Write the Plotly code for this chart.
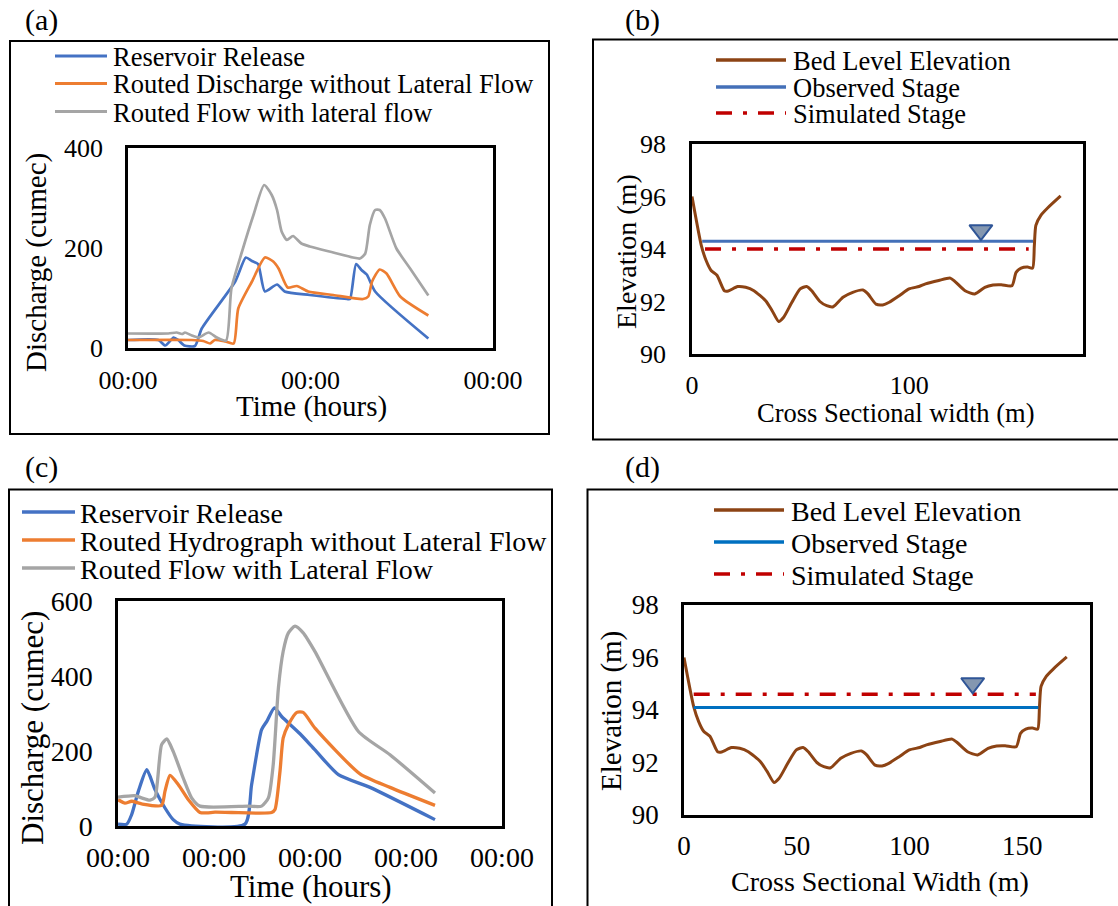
import plotly.graph_objects as go

W, H = 1118, 906
FONT = "Liberation Serif"

# ---------------- data ----------------
# (a) hydrographs, time in hours
a_blue_t = [0, 4, 4.9, 6, 6.6, 7.4, 8.8, 9.7, 14.1, 15.5, 16.3, 17.1, 18.0, 19.6, 20.6, 23.9, 28.8, 29.2, 30.0, 30.7, 31.4, 32.5, 39.5]
a_blue_q = [16, 16, 5, 21, 16, 5, 4, 39, 133, 181, 174, 168, 113, 127, 113, 106, 98, 98, 168, 156, 147, 113, 19]
a_orange_t = [0, 8.4, 9.9, 10.8, 11.4, 12.8, 13.9, 14.5, 16.3, 18.0, 19.1, 19.8, 21.0, 22.2, 23.7, 27.0, 30.9, 31.6, 32.1, 33.1, 34.0, 35.8, 39.5]
a_orange_q = [16, 16, 14, 9, 16, 13, 9, 79, 133, 181, 173, 159, 121, 124, 113, 106, 98, 103, 133, 157, 149, 103, 65]
a_gray_t = [0, 5.3, 6.4, 7.1, 7.5, 8.4, 9.3, 10.6, 11.7, 12.9, 13.6, 15.0, 16.5, 17.9, 18.9, 19.6, 20.2, 20.9, 21.7, 22.8, 23.9, 27.0, 29.6, 30.5, 31.2, 31.8, 32.5, 33.1, 33.8, 35.3, 37.1, 39.5]
a_gray_q = [29, 29, 31, 28, 31, 25, 21, 31, 21, 15, 119, 193, 266, 326, 306, 276, 233, 216, 224, 209, 203, 191, 181, 179, 189, 246, 276, 276, 259, 199, 159, 105]
a_names = ["Reservoir Release", "Routed Discharge without Lateral Flow", "Routed Flow with lateral flow"]

# (c) hydrographs, time in hours
c_blue_t = [0, 2.2, 3.4, 5.1, 7.2, 9.25, 11.75, 13.8, 15.5, 31.75, 33.4, 35.9, 37.2, 39.1, 40.9, 45.5, 49.25, 55.1, 63, 79.25]
c_blue_q = [5, 5, 30, 93, 150, 97, 48, 17, 5, 5, 110, 257, 279, 315, 292, 246, 203, 137, 103, 17]
c_orange_t = [0, 1.75, 3.4, 5.9, 10.9, 11.75, 13, 15.1, 17.6, 20.5, 22.2, 24.25, 28.4, 38.4, 39.25, 40.5, 41.3, 42.6, 44.7, 46.3, 49.25, 60.5, 68, 79.25]
c_orange_q = [70, 61, 66, 59, 55, 93, 135, 110, 70, 36, 35, 37, 36, 36, 44, 146, 235, 270, 303, 303, 261, 139, 103, 55]
c_gray_t = [0, 4.25, 5.9, 8, 9.25, 10.9, 12.2, 13.8, 16.3, 18.4, 20.5, 32.6, 35.9, 37.6, 38.8, 40.1, 41.3, 42.6, 44.25, 46.3, 49.25, 60.1, 68, 79.25]
c_gray_q = [77, 81, 75, 69, 77, 217, 232, 199, 128, 75, 53, 53, 53, 75, 163, 368, 466, 515, 533, 515, 465, 252, 190, 88]
c_names = ["Reservoir Release", "Routed Hydrograph without Lateral Flow", "Routed Flow with Lateral Flow"]

time_ticks_a = [0, 24, 48]
time_ticks_c = [0, 24, 48, 72, 96]
time_label = "00:00"

# (b), (d) cross-section
bed_x = [0, 4.3, 6.5, 8.8, 11.5, 14.9, 16.7, 21, 24.7, 28.5, 33.9, 36.9, 39.9, 42.2, 46, 49.8, 52.8, 55.1, 58.9, 62, 65, 69.5, 74, 78.7, 81, 84.7, 87.8, 90.8, 95.4, 99.9, 104.5, 107.5, 113.6, 118.9, 121.1, 125.7, 130.2, 134.8, 138.6, 142.4, 147.3, 149.2, 151.5, 154.5, 156.8, 157.6, 158.3, 160.6, 163.7, 169.7]
bed_z = [96.0, 94.13, 93.56, 93.18, 93.0, 92.41, 92.4, 92.57, 92.54, 92.41, 92.03, 91.65, 91.24, 91.4, 91.97, 92.48, 92.57, 92.41, 92.0, 91.84, 91.8, 92.16, 92.35, 92.44, 92.29, 91.9, 91.87, 91.97, 92.22, 92.48, 92.57, 92.67, 92.8, 92.89, 92.76, 92.41, 92.29, 92.54, 92.63, 92.64, 92.6, 93.11, 93.27, 93.31, 93.27, 94.13, 94.9, 95.28, 95.56, 96.02]
b_obs_x, b_obs_z = [4.7, 157.0], 94.3
b_sim_x, b_sim_z = [6.0, 155.0], 94.0
b_mark_x = 133
d_obs_x, d_obs_z = [4.3, 157.1], 94.1
d_sim_x, d_sim_z = [4.3, 156.0], 94.6
d_mark_x = 128
xs_names = ["Bed Level Elevation", "Observed Stage", "Simulated Stage"]

BLUE, ORANGE, GRAY = "#4472C4", "#ED7D31", "#A5A5A5"
BROWN, RED = "#8C4314", "#C00000"
OBS_B, OBS_D = "#4470B8", "#0070C0"
SIM_DASH = "16px,11px,4px,11px"

def px(x):
    return x / W

def py(y):
    return 1 - y / H

fig = go.Figure()

# plot-area boxes in pixels (left, right, top, bottom)
boxes = {
    "a": (128, 493, 148, 348),
    "b": (692, 1083, 144, 354),
    "c": (118, 502, 601, 826),
    "d": (684, 1090, 605, 815),
}
suffix = {"a": "", "b": "2", "c": "3", "d": "4"}

def add_line(panel, x, y, color, width, dash="solid", smooth=True):
    s = suffix[panel]
    fig.add_trace(go.Scatter(
        x=x, y=y, mode="lines", showlegend=False,
        line=dict(color=color, width=width, dash=dash,
                  shape="spline" if smooth else "linear", smoothing=0.6),
        xaxis="x" + s, yaxis="y" + s))

# (a)
add_line("a", a_blue_t, a_blue_q, BLUE, 2.7)
add_line("a", a_orange_t, a_orange_q, ORANGE, 2.7)
add_line("a", a_gray_t, a_gray_q, GRAY, 2.7)
# (c)
add_line("c", c_blue_t, c_blue_q, BLUE, 3.3)
add_line("c", c_orange_t, c_orange_q, ORANGE, 3.3)
add_line("c", c_gray_t, c_gray_q, GRAY, 3.3)

# (b)
add_line("b", bed_x, bed_z, BROWN, 3)
add_line("b", b_obs_x, [b_obs_z] * 2, OBS_B, 3, smooth=False)
add_line("b", b_sim_x, [b_sim_z] * 2, RED, 3.5, dash=SIM_DASH, smooth=False)
# (d)
add_line("d", bed_x, bed_z, BROWN, 3)
add_line("d", d_obs_x, [d_obs_z] * 2, OBS_D, 3, smooth=False)
add_line("d", d_sim_x, [d_sim_z] * 2, RED, 3.5, dash=SIM_DASH, smooth=False)

# water-level triangle markers (apex on the stage line)
MSIZE = 20
def add_marker(panel, x, stage, yr):
    l, r, t, b = boxes[panel]
    ppu = (b - t) / (yr[1] - yr[0])
    off = (MSIZE / 2 + 1) / ppu
    s = suffix[panel]
    fig.add_trace(go.Scatter(
        x=[x], y=[stage + off], mode="markers", showlegend=False,
        marker=dict(symbol="triangle-down", size=MSIZE, color="#8497B0",
                    line=dict(color="#2F5597", width=2)),
        xaxis="x" + s, yaxis="y" + s))

add_marker("b", b_mark_x, b_obs_z, (90, 98))
add_marker("d", d_mark_x, d_sim_z, (90, 98))

# ---------------- axes ----------------
def axis_common(size):
    return dict(showline=True, mirror=True, linecolor="black", linewidth=2.5,
                showgrid=False, zeroline=False, ticks="outside",
                tickcolor="rgba(0,0,0,0)", automargin=False,
                tickfont=dict(family=FONT, size=size, color="black"))

layout_axes = {}
specs = {
    "a": dict(xr=[0, 48], xt=time_ticks_a, xl=[time_label] * 3, yr=[0, 400], yt=[0, 200, 400], fs=26, xl_len=7, yl_len=17),
    "b": dict(xr=[0, 180], xt=[0, 100], xl=["0", "100"], yr=[90, 98], yt=[90, 92, 94, 96, 98], fs=26, xl_len=6, yl_len=18),
    "c": dict(xr=[0, 96], xt=time_ticks_c, xl=[time_label] * 5, yr=[0, 600], yt=[0, 200, 400, 600], fs=28, xl_len=5, yl_len=17),
    "d": dict(xr=[0, 180], xt=[0, 50, 100, 150], xl=["0", "50", "100", "150"], yr=[90, 98], yt=[90, 92, 94, 96, 98], fs=27, xl_len=5, yl_len=17),
}
for p, sp in specs.items():
    l, r, t, b = boxes[p]
    s = suffix[p]
    xa = axis_common(sp["fs"])
    xa.update(domain=[px(l), px(r)], range=sp["xr"], tickvals=sp["xt"], ticktext=sp["xl"],
              ticklen=sp["xl_len"], anchor="y" + s)
    ya = axis_common(sp["fs"])
    ya.update(domain=[py(b), py(t)], range=sp["yr"], tickvals=sp["yt"], ticklen=sp["yl_len"],
              anchor="x" + s)
    layout_axes["xaxis" + s] = xa
    layout_axes["yaxis" + s] = ya

fig.update_layout(**layout_axes)

# ---------------- frames, labels, titles, legends ----------------
shapes = []
annotations = []

def frame(x0, y0, x1, y1):
    shapes.append(dict(type="rect", xref="paper", yref="paper",
                       x0=px(x0), x1=px(x1), y0=py(y1), y1=py(y0),
                       line=dict(color="black", width=2), fillcolor="rgba(0,0,0,0)",
                       layer="below"))

frame(10, 41, 549, 434)
frame(593, 39.5, 1121, 439.5)
frame(9, 489.5, 552, 912)
frame(587.5, 489.5, 1121, 912)

def text(x, y, s, size, xanchor="center", angle=0):
    annotations.append(dict(x=px(x), y=py(y), xref="paper", yref="paper", text=s,
                            showarrow=False, xanchor=xanchor, yanchor="middle",
                            textangle=angle,
                            font=dict(family=FONT, size=size, color="black")))

for lab, x, y in [("(a)", 41, 20), ("(b)", 642, 20), ("(c)", 41, 467), ("(d)", 642, 467)]:
    text(x, y, lab, 30)

# axis titles
text(311, 406, "Time (hours)", 29)
text(36, 263, "Discharge (cumec)", 29, angle=-90)
text(896, 413, "Cross Sectional width (m)", 26.5)
text(627, 252, "Elevation (m)", 28, angle=-90)
text(311, 886, "Time (hours)", 31)
text(32, 728, "Discharge (cumec)", 31, angle=-90)
text(880, 881, "Cross Sectional Width (m)", 28)
text(611, 711, "Elevation (m)", 29, angle=-90)

def legend(entries, x0, x1, xt, ys, size):
    for (name, color, width, dash), y in zip(entries, ys):
        shapes.append(dict(type="line", xref="paper", yref="paper",
                           x0=px(x0), x1=px(x1), y0=py(y), y1=py(y),
                           line=dict(color=color, width=width, dash=dash)))
        text(xt, y + 1, name, size, xanchor="left")

legend([(a_names[0], BLUE, 3, "solid"), (a_names[1], ORANGE, 3, "solid"), (a_names[2], GRAY, 3, "solid")],
       55, 107, 111, [56, 83.5, 111.5], 26.5)
legend([(xs_names[0], BROWN, 3.5, "solid"), (xs_names[1], OBS_B, 3.5, "solid"), (xs_names[2], RED, 3.5, SIM_DASH)],
       716, 786, 791, [60, 87, 113], 26.5)
legend([(c_names[0], BLUE, 3.5, "solid"), (c_names[1], ORANGE, 3.5, "solid"), (c_names[2], GRAY, 3.5, "solid")],
       22, 75, 78, [512, 540, 568], 28)
legend([(xs_names[0], BROWN, 3.5, "solid"), (xs_names[1], OBS_D, 3.5, "solid"), (xs_names[2], RED, 3.5, SIM_DASH)],
       714, 784, 789, [510, 542, 574], 28)

fig.update_layout(
    width=W, height=H, margin=dict(l=0, r=0, t=0, b=0, autoexpand=False),
    paper_bgcolor="white", plot_bgcolor="white",
    shapes=shapes, annotations=annotations,
    font=dict(family=FONT, color="black"),
    showlegend=False,
)

fig.write_html("out.html")
